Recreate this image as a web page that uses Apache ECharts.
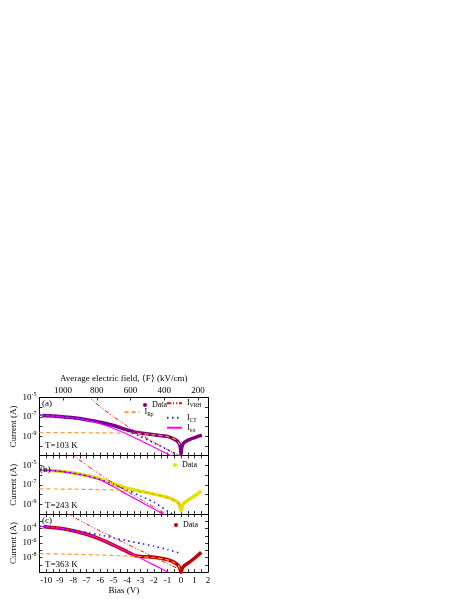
<!DOCTYPE html>
<html><head><meta charset="utf-8">
<script src="https://cdn.jsdelivr.net/npm/echarts@6/dist/echarts.min.js"></script>
<style>html,body{margin:0;padding:0;background:#fff}#c{width:463px;height:599px}</style>
</head><body><div id="c"></div>
<script>
// ---------- data: [bias (V), current (A)] ----------
// Panel (a) T = 103 K
const dataA = [[-10.3,1.4e-7],[-9.5,1.2e-7],[-9,1.07e-7],[-8,7.9e-8],[-7,5.0e-8],[-6,2.8e-8],[-5,1.26e-8],[-4,4.5e-9],[-3.5,2.8e-9],[-3,2.1e-9],[-2,1.4e-9],[-1,9.5e-10],[-0.5,5.0e-10],[-0.25,2.8e-10],[-0.1,1.26e-10],[-0.04,5e-11],[0,1.26e-11],[0.04,5e-11],[0.1,1.1e-10],[0.2,2e-10],[0.4,3.2e-10],[0.7,5e-10],[1.0,7e-10],[1.3,1e-9],[1.55,1.3e-9]];
const rpA = [[-10.5,2.4e-9],[-8,2.3e-9],[-6,2.2e-9],[-4.5,2.1e-9],[-3.5,2.0e-9],[-3,1.86e-9],[-2,1.38e-9],[-1,9.3e-10],[-0.5,5.2e-10],[-0.25,3.0e-10],[-0.1,1.3e-10],[-0.05,6.3e-11]];
const vrhA = [[-7,1.8e-5],[-6,1.1e-6],[-5,1e-7],[-4,1.1e-8],[-3,1.4e-9],[-2,2.2e-10],[-1,4e-11],[-0.3,1.26e-11],[0.2,5e-12]];
const ctA = [[-10.5,1.6e-7],[-9,1.1e-7],[-8,7.9e-8],[-7,5e-8],[-6,2.6e-8],[-5,1.1e-8],[-4,3.5e-9],[-3,8.9e-10],[-2,2e-10],[-1,4e-11],[-0.4,1.4e-11],[0.2,5e-12]];
const totA = [[-10.5,1.5e-7],[-9,1.07e-7],[-8,7.6e-8],[-7,4.5e-8],[-6,2e-8],[-5,6.3e-9],[-4,1.6e-9],[-3,3.5e-10],[-2,7e-11],[-1,1.4e-11],[-0.5,6.3e-12]];
// Panel (b) T = 243 K
const dataB = [[-10.2,3.2e-6],[-9,2.4e-6],[-8,1.6e-6],[-7,8.9e-7],[-6,4e-7],[-5,1.26e-7],[-4.5,7e-8],[-4,4.5e-8],[-3,2.2e-8],[-2,1.1e-8],[-1,5e-9],[-0.5,2.6e-9],[-0.2,1.4e-9],[-0.08,6.3e-10],[0,2.2e-10],[0.08,6.3e-10],[0.2,1.26e-9],[0.5,2.5e-9],[1.0,7e-9],[1.5,2.2e-8]];
const rpB = [[-10.5,3.8e-8],[-8,3.5e-8],[-6,3.2e-8],[-5,2.8e-8],[-4,2.4e-8],[-3,1.9e-8],[-2,1.05e-8],[-1,4.8e-9],[-0.5,2.5e-9],[-0.2,1.35e-9],[-0.08,6.3e-10]];
const vrhB = [[-8.3,2e-4],[-8,1e-4],[-7,1e-5],[-6,1.1e-6],[-5,1.4e-7],[-4,2e-8],[-3,3.2e-9],[-2,5e-10],[-1,7.9e-11],[0,1.6e-11]];
const ctB = [[-10.5,3.5e-6],[-9,2.5e-6],[-8,1.6e-6],[-7,8.3e-7],[-6,3.5e-7],[-5,1.1e-7],[-4,2.8e-8],[-3,7e-9],[-2,1.6e-9],[-1,2e-10],[-0.5,7.9e-11]];
const totB = [[-10.5,3.3e-6],[-9,2.4e-6],[-8,1.5e-6],[-7,7.9e-7],[-6,3.2e-7],[-5.5,1.4e-7],[-5,6.3e-8],[-4,1e-8],[-3,1.8e-9],[-2,3.2e-10],[-1.5,1.3e-10],[-1,5.6e-11]];
// Panel (c) T = 363 K
const dataC = [[-10.2,1.8e-4],[-9,1.1e-4],[-8,5e-5],[-7,1.6e-5],[-6,3.5e-6],[-5,5e-7],[-4.5,1.8e-7],[-4,6.3e-8],[-3.5,2e-8],[-3,1.4e-8],[-2.5,1.26e-8],[-2,1.05e-8],[-1.5,7.9e-9],[-1,5e-9],[-0.5,2.1e-9],[-0.2,7.9e-10],[-0.07,2.5e-10],[0,7.9e-11],[0.07,2.5e-10],[0.2,6.3e-10],[0.5,1.6e-9],[1.0,7.9e-9],[1.5,5e-8]];
const rpC = [[-10.5,3.5e-8],[-8,2.8e-8],[-6,2.2e-8],[-4,1.6e-8],[-3,1.3e-8],[-2,1e-8],[-1,4.7e-9],[-0.5,2e-9],[-0.2,7.6e-10],[-0.08,2.8e-10]];
const vrhC = [[-8.6,1.6e-2],[-8,4e-3],[-7,4e-4],[-6,4.5e-5],[-5,5.6e-6],[-4,7e-7],[-3,8.9e-8],[-2,1.1e-8],[-1,1.4e-9],[0,1.8e-10]];
const ctC = [[-10.5,2e-4],[-9,1.1e-4],[-8,5.6e-5],[-7,2.8e-5],[-6,1.26e-5],[-5,5e-6],[-4,2e-6],[-3,8.9e-7],[-2,3.5e-7],[-1,1.26e-7],[-0.2,4.5e-8]];
const totC = [[-10.5,2e-4],[-9,1.1e-4],[-8,5e-5],[-7,1.6e-5],[-6,3.5e-6],[-5,5e-7],[-4,6.3e-8],[-3,7.9e-9],[-2,8.9e-10],[-1,1e-10],[-0.5,3.2e-11]];

// ---------- tick labels ----------
const fieldTicks = [200, 400, 600, 800, 1000];
const yExpA = [-5, -7, -9];
const yExpB = [-5, -7, -9];
const yExpC = [-4, -6, -8];
const panelLabels = ['(a)', '(b)', '(c)'];
const tempLabels = ['T=103 K', 'T=243 K', 'T=363 K'];

const FONT = 'Liberation Serif';
const BLACK = '#000';
const rich = {
  b: {fontFamily: FONT, fontSize: 9, color: BLACK, lineHeight: 12},
  sup: {fontFamily: FONT, fontSize: 6, color: BLACK, lineHeight: 6, verticalAlign: 'top'},
  sub: {fontFamily: FONT, fontSize: 6, color: BLACK, lineHeight: 6, verticalAlign: 'bottom'}
};
const legRich = {
  b: {fontFamily: FONT, fontSize: 8, color: BLACK, lineHeight: 11},
  sub: {fontFamily: FONT, fontSize: 5.5, color: BLACK, lineHeight: 5.5, verticalAlign: 'bottom'}
};

const grids = [
  {left: 39.5, top: 397.5, width: 168.5, height: 58},
  {left: 39.5, top: 455.5, width: 168.5, height: 58.5},
  {left: 39.5, top: 514, width: 168.5, height: 58}
].map(g => Object.assign({containLabel: false, outerBoundsMode: 'none'}, g));

const lineAxis = {show: true, onZero: false, lineStyle: {color: BLACK, width: 1}};
const tick = {show: true, inside: true, length: 3, lineStyle: {color: BLACK, width: 0.8}};

function biasAxis(gi, pos, showLabels, name) {
  const ax = {
    type: 'value', gridIndex: gi, position: pos, min: -10.5, max: 2, interval: 0.5,
    axisLine: lineAxis, axisTick: tick, splitLine: {show: false},
    axisLabel: {show: showLabels, interval: 0, margin: 4, fontFamily: FONT, fontSize: 9, color: BLACK,
      formatter: v => Math.abs(v - Math.round(v)) < 1e-6 ? String(Math.round(v)) : ''}
  };
  if (name) {
    ax.name = name; ax.nameLocation = 'middle'; ax.nameGap = 14;
    ax.nameTextStyle = {fontFamily: FONT, fontSize: 9, color: BLACK};
  }
  return ax;
}
function logAxis(gi, pos, lo, hi, exps) {
  const ax = {
    type: 'log', logBase: 10, gridIndex: gi, position: pos, min: lo, max: hi,
    axisLine: lineAxis, axisTick: tick, splitLine: {show: false}, minorTick: {show: false},
    axisLabel: {show: !!exps, interval: 0, margin: 3, rich: rich,
      formatter: v => { const e = Math.round(Math.log10(v)); return exps && exps.includes(e) ? '{b|10}{sup|' + e + '}' : ''; }}
  };
  if (exps) {
    ax.name = 'Current (A)'; ax.nameLocation = 'middle'; ax.nameGap = 20;
    ax.nameTextStyle = {fontFamily: FONT, fontSize: 9, color: BLACK};
  }
  return ax;
}

const xAxis = [
  biasAxis(0, 'bottom', false),
  {
    type: 'value', gridIndex: 0, position: 'top', min: 140, max: 1140, inverse: true,
    name: 'Average electric field, \u27E8F\u27E9 (kV/cm)', nameLocation: 'middle', nameGap: 14,
    nameTextStyle: {fontFamily: FONT, fontSize: 9, color: BLACK},
    axisLine: lineAxis, axisTick: Object.assign({customValues: fieldTicks}, tick), splitLine: {show: false},
    axisLabel: {customValues: fieldTicks, margin: 2, fontFamily: FONT, fontSize: 9, color: BLACK,
      formatter: v => String(v)}
  },
  biasAxis(1, 'bottom', false),
  biasAxis(1, 'top', false),
  biasAxis(2, 'bottom', true, 'Bias (V)'),
  biasAxis(2, 'top', false)
];
const yAxis = [
  logAxis(0, 'left', 1e-11, 1e-5, yExpA), logAxis(0, 'right', 1e-11, 1e-5, null),
  logAxis(1, 'left', 1e-10, 1e-4, yExpB), logAxis(1, 'right', 1e-10, 1e-4, null),
  logAxis(2, 'left', 1e-10, 1e-2, yExpC), logAxis(2, 'right', 1e-10, 1e-2, null)
];

const styles = {
  vrh: {color: '#ff0000', width: 1, type: [4, 2, 1, 2, 1, 2]},
  rp: {color: '#ff9933', width: 1.2, type: [4, 3]},
  ct: {color: '#1a1aff', width: 1.6, type: [1.5, 3.5]},
  tot: {color: '#ff00ff', width: 1.2, type: 'solid'}
};
function dataSeries(name, data, gi, color) {
  return {name, type: 'line', xAxisIndex: gi * 2, yAxisIndex: gi * 2, data, symbol: 'none',
    smooth: 0.2, lineStyle: {color, width: 3.5}, itemStyle: {color}, z: 2, silent: true, animation: false};
}
function modelSeries(name, data, gi, key) {
  const s = styles[key];
  return {name, type: 'line', xAxisIndex: gi * 2, yAxisIndex: gi * 2, data, symbol: 'none',
    smooth: 0.15, lineStyle: {color: s.color, width: s.width, type: s.type}, itemStyle: {color: s.color},
    z: 3, silent: true, animation: false};
}
const series = [
  dataSeries('Data a', dataA, 0, '#800080'),
  modelSeries('tot a', totA, 0, 'tot'), modelSeries('Rp a', rpA, 0, 'rp'),
  modelSeries('CT a', ctA, 0, 'ct'), modelSeries('VRH a', vrhA, 0, 'vrh'),
  dataSeries('Data b', dataB, 1, '#e2e200'),
  modelSeries('tot b', totB, 1, 'tot'), modelSeries('Rp b', rpB, 1, 'rp'),
  modelSeries('CT b', ctB, 1, 'ct'), modelSeries('VRH b', vrhB, 1, 'vrh'),
  dataSeries('Data c', dataC, 2, '#c00000'),
  modelSeries('tot c', totC, 2, 'tot'), modelSeries('Rp c', rpC, 2, 'rp'),
  modelSeries('CT c', ctC, 2, 'ct'), modelSeries('VRH c', vrhC, 2, 'vrh')
];

const legendText = {'Data a': '{b|Data}', 'Data b': '{b|Data}', 'Data c': '{b|Data}',
  'VRH a': '{b|I}{sub|VRH}', 'Rp a': '{b|I}{sub|Rp}', 'CT a': '{b|I}{sub|CT}', 'tot a': '{b|I}{sub|tot}'};
function leg(name, left, top, isDot) {
  const l = {data: [name], left, top, orient: 'horizontal', padding: 0, itemGap: 0, selectedMode: false,
    itemWidth: isDot ? 4 : 15, itemHeight: isDot ? 4 : 8,
    formatter: n => legendText[n],
    textStyle: {fontFamily: FONT, fontSize: 8, color: BLACK, rich: legRich}};
  if (isDot) l.icon = 'circle';
  else l.itemStyle = {opacity: 0};
  return l;
}
const legend = [
  leg('Data a', 143, 401, true),
  leg('VRH a', 166, 399.3, false),
  leg('Rp a', 123.5, 408.3, false),
  leg('CT a', 166, 413.7, false),
  leg('tot a', 166, 423.7, false),
  leg('Data b', 173, 461, true),
  leg('Data c', 174, 521, true)
];

const txtPos = [[42, 404], [40, 470], [42, 521]];
const tPos = [[45, 446], [45, 506], [45, 565]];
const graphic = [];
panelLabels.forEach((t, i) => graphic.push({type: 'text', x: txtPos[i][0], y: txtPos[i][1], z: 10,
  style: {text: t, fontFamily: FONT, fontSize: 9, fill: BLACK, verticalAlign: 'middle'}}));
tempLabels.forEach((t, i) => graphic.push({type: 'text', x: tPos[i][0], y: tPos[i][1], z: 10,
  style: {text: t, fontFamily: FONT, fontSize: 9, fill: BLACK, verticalAlign: 'middle'}}));

const chart = echarts.init(document.getElementById('c'), null, {renderer: 'canvas'});
chart.setOption({backgroundColor: '#fff', animation: false, grid: grids, xAxis, yAxis, series, legend, graphic});
</script>
</body></html>
